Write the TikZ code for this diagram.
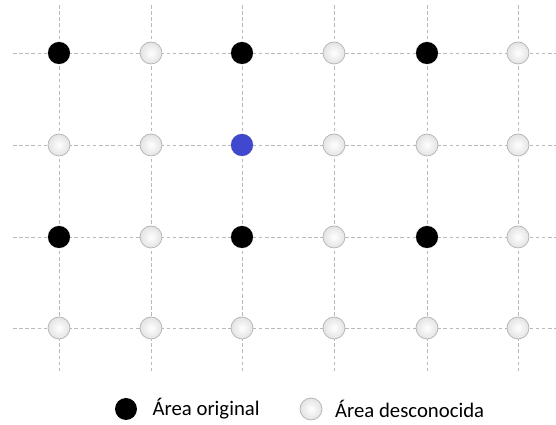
\documentclass[tikz,border=0pt]{standalone}
\usepackage{fontspec}
\setmainfont{Carlito}
\usetikzlibrary{positioning}

\definecolor{targetblue}{RGB}{64,72,208}

\tikzset{
  gridline/.style={draw=gray!55, dash pattern=on 2pt off 1.5pt, line width=0.45pt},
  known/.style={circle, fill=black, minimum size=0.44cm, inner sep=0pt},
  unknown/.style={circle, draw=gray!60, shading=radial, inner color=white, outer color=gray!22, minimum size=0.44cm, inner sep=0pt},
  target/.style={circle, fill=targetblue, minimum size=0.44cm, inner sep=0pt},
  legendtext/.style={font=\fontsize{11.8}{13}\selectfont, anchor=west, inner sep=0pt}
}

\begin{document}
\begin{tikzpicture}[x=0.02cm, y=-0.02cm]
  \useasboundingbox (0,0) rectangle (556,425);

  % grid
  \foreach \x in {59,151,242,334,427,518}
    \draw[gridline] (\x,5) -- (\x,373);
  \foreach \y in {53,145,237,328}
    \draw[gridline] (13,\y) -- (556,\y);

  % points
  \foreach \x/\i in {59/1,151/2,242/3,334/4,427/5,518/6}
    \foreach \y/\j in {53/1,145/2,237/3,328/4}
      \node[unknown] (p\i\j) at (\x,\y) {};

  \foreach \x/\i in {59/1,242/3,427/5}
    \foreach \y/\j in {53/1,237/3}
      \node[known] (k\i\j) at (\x,\y) {};

  \node[target] (center) at (242,145) {};

  % legend
  \node[known] (legknown) at (126,409) {};
  \node[legendtext, right=0.3cm of legknown] (legknowntext) {Área original};
  \node[unknown] (legunknown) at (311,409) {};
  \node[legendtext, right=0.25cm of legunknown] (legunknowntext) {Área desconocida};
\end{tikzpicture}
\end{document}
